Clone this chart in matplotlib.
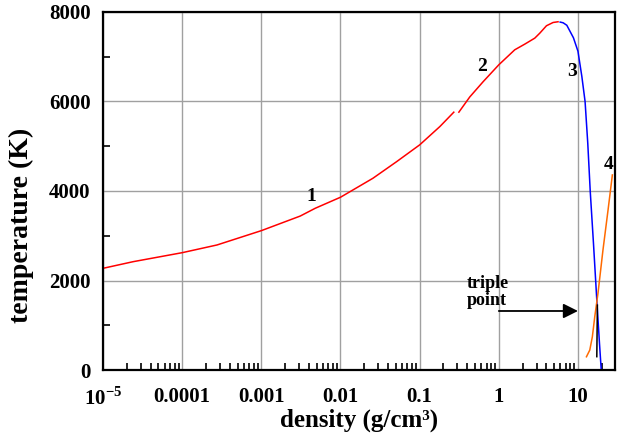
import matplotlib
matplotlib.use('Agg')
import matplotlib.pyplot as plt
import numpy as np
from matplotlib.ticker import FixedLocator, LogLocator, NullFormatter, MultipleLocator

plt.rcParams['font.family'] = ['Liberation Serif', 'DejaVu Serif']
plt.rcParams['font.weight'] = 'bold'
plt.rcParams['mathtext.fontset'] = 'custom'
plt.rcParams['mathtext.rm'] = 'Liberation Serif:bold'
plt.rcParams['mathtext.bf'] = 'Liberation Serif:bold'

# curve 1 (red, low density branch)
rho1 = [1e-5, 2.4e-5, 1e-4, 2.75e-4, 1e-3, 3.1e-3, 4.8e-3, 0.01, 0.0257,
        0.0513, 0.1, 0.18, 0.27]
T1 = [2273, 2421, 2622, 2794, 3114, 3440, 3614, 3860, 4284,
      4656, 5029, 5438, 5759]
# curve 2 (red, up to critical point)
rho2 = [0.313, 0.43, 0.634, 1.0, 1.59, 2.13, 2.85, 3.3, 4.0, 4.85, 5.6]
T2 = [5760, 6100, 6440, 6817, 7152, 7279, 7413, 7525, 7689, 7762, 7778]
# curve 3 (blue, liquid branch)
rho3 = [5.96, 6.5, 7.23, 8.77, 10.0, 11.2, 12.3, 13.3, 14.3, 15.7, 17.3,
        18.7, 19.5, 19.7]
T3 = [7771, 7755, 7700, 7420, 7120, 6555, 5997, 5067, 3985, 2832, 1565,
      597, 112, 0]
# curve 4 (orange, melting line)
rho4 = [12.8, 14.1, 15.2, 16.3, 17.9, 20.7, 24.0, 27.2]
T4 = [298, 447, 745, 1192, 1714, 2682, 3576, 4358]
# black segment near triple point
rho_tp = [17.6, 17.3]
T_tp = [1450, 300]

xticks = [1e-5, 1e-4, 1e-3, 1e-2, 1e-1, 1, 10]
xticklabels = [r'$10^{-5}$', '0.0001', '0.001', '0.01', '0.1', '1', '10']

fig = plt.figure(figsize=(6.17, 4.38), dpi=100)
ax = fig.add_axes([0.167, 0.155, 0.83, 0.818])

ax.plot(rho1, T1, color='#ff0000', lw=1.1)
ax.plot(rho2, T2, color='#ff0000', lw=1.1)
ax.plot(rho3, T3, color='#0000ff', lw=1.1)
ax.plot(rho4, T4, color='#ff6a00', lw=1.1)
ax.plot(rho_tp, T_tp, color='black', lw=1.1)

ax.set_xscale('log')
ax.set_xlim(1e-5, 29.5)
ax.set_ylim(0, 8000)

ax.xaxis.set_major_locator(FixedLocator(xticks))
ax.set_xticklabels(xticklabels)
ax.xaxis.set_minor_locator(LogLocator(base=10, subs=np.arange(2, 10)))
ax.xaxis.set_minor_formatter(NullFormatter())
ax.yaxis.set_major_locator(MultipleLocator(2000))
ax.yaxis.set_minor_locator(MultipleLocator(1000))

ax.grid(True, which='major', color='#a0a0a0', lw=1)
ax.set_axisbelow(True)
ax.tick_params(axis='both', which='both', direction='in', top=False, right=False,
               labelsize=15, width=1.2)
ax.tick_params(axis='both', which='major', length=0)
ax.tick_params(axis='both', which='minor', length=5)
ax.tick_params(axis='x', which='major', pad=12)
ax.tick_params(axis='y', which='major', pad=9)
for s in ax.spines.values():
    s.set_linewidth(1.6)

ax.set_xlabel('density (g/cm³)', fontsize=18, fontweight='bold')
ax.set_ylabel('temperature (K)', fontsize=20, fontweight='bold')
ax.xaxis.set_label_coords(0.5, -0.108)
ax.yaxis.set_label_coords(-0.135, 0.405)

ax.text(0.0043, 3866, '1', fontsize=14, fontweight='bold', ha='center', va='center')
ax.text(0.62, 6780, '2', fontsize=14, fontweight='bold', ha='center', va='center')
ax.text(8.4, 6660, '3', fontsize=14, fontweight='bold', ha='center', va='center')
ax.text(24.5, 4580, '4', fontsize=14, fontweight='bold', ha='center', va='center')

ax.text(0.39, 2120, 'triple\npoint', fontsize=13, fontweight='bold',
        ha='left', va='top', linespacing=1.0)
ax.annotate('', xy=(10, 1320), xytext=(1.0, 1320),
            arrowprops=dict(arrowstyle='-|>', color='black', lw=1.3,
                            mutation_scale=22, shrinkA=0, shrinkB=0))

fig.savefig('out.png', dpi=100)
